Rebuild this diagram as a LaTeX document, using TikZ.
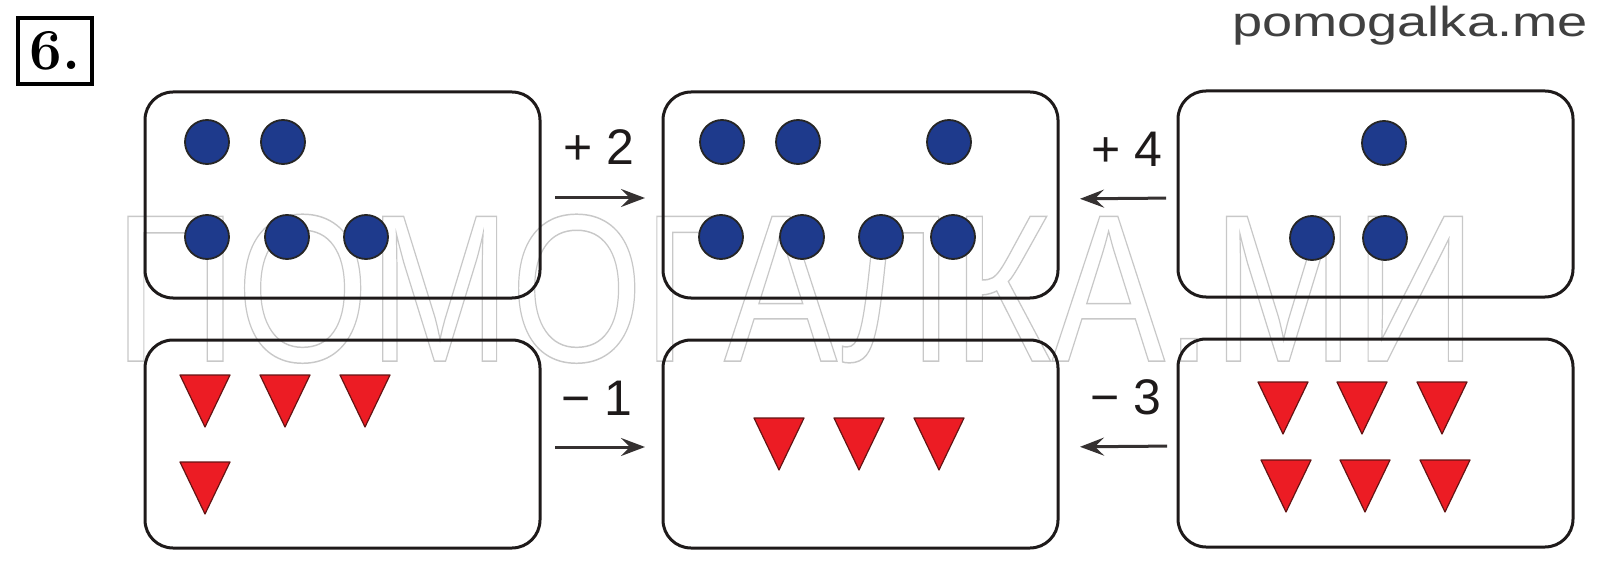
\documentclass[tikz,border=0pt]{standalone}
\usepackage{fontspec}
\usepackage{graphicx}
\newfontfamily\arial{Liberation Sans}
\usetikzlibrary{arrows.meta}

\definecolor{dotblue}{RGB}{30,58,140}
\definecolor{trired}{RGB}{236,28,36}
\definecolor{triedge}{RGB}{100,20,20}
\definecolor{ink}{RGB}{30,26,26}
\definecolor{wm}{RGB}{200,200,200}
\definecolor{site}{RGB}{64,64,64}

\tikzset{
  card/.style={draw=ink, line width=3pt, rounded corners=28pt, minimum width=395pt,
    minimum height=206pt, outer sep=0pt, inner sep=0pt},
  dot/.style={circle, fill=dotblue, draw=black!85, line width=1.8pt, minimum size=44pt, inner sep=0pt},
  tri/.style={fill=trired, draw=triedge, line width=1.2pt, line join=round},
  arr/.style={draw=ink!90, line width=3pt, -{Stealth[length=24pt,width=18pt,inset=9pt]}},
  lab/.style={font=\arial\fontsize{50}{60}\selectfont, text=ink, anchor=base, inner sep=0pt},
}
\newcommand\redtri[2]{\path[tri] (#1-25,#2) -- (#1+25,#2) -- (#1,#2+52) -- cycle;}

\begin{document}
\begin{tikzpicture}[x=1pt,y=-1pt]
\useasboundingbox (0,0) rectangle (1607,572);

% watermark
\node[anchor=north west, inner sep=0pt, text=wm] (wmk) at (114,214)
  {\resizebox{1362pt}{147pt}{\arial\fontsize{100}{100}\selectfont\special{pdf:literal direct q 1 Tr 0.7 w}ПОМОГАЛКА.МИ\special{pdf:literal direct Q}}};

% number box
\node[draw=black, line width=4pt, minimum width=74pt, minimum height=66pt, inner sep=0pt,
  font=\bfseries\fontsize{58}{60}\selectfont] (num) at (55,51) {6.};

% site
\node[anchor=base west, inner sep=0pt, text=site, font=\arial\fontsize{42}{46}\selectfont]
  (site) at (1232,37) {\scalebox{1.29}[1]{pomogalka.me}};

% cards
\node[card] (b1) at (342.5,195) {};
\node[card] (b2) at (860.5,195) {};
\node[card] (b3) at (1375.5,194) {};
\node[card, minimum height=208pt] (b4) at (342.5,444) {};
\node[card, minimum height=208pt] (b5) at (860.5,444) {};
\node[card, minimum height=208pt] (b6) at (1375.5,443) {};

% arrows
\draw[arr, shorten <=15pt, shorten >=18pt] ([yshift=-3pt]b1.east) -- ([yshift=-3pt]b2.west);
\draw[arr, shorten <=12pt, shorten >=22pt] ([yshift=-4pt]b3.west) -- ([yshift=-4pt]b2.east);
\draw[arr, shorten <=15pt, shorten >=18pt] ([yshift=-3pt]b4.east) -- ([yshift=-3pt]b5.west);
\draw[arr, shorten <=11pt, shorten >=22pt] ([yshift=-3pt]b6.west) -- ([yshift=-3pt]b5.east);

\node[lab] (l1) at (599,165) {+ 2};
\node[lab] (l2) at (1127,167) {+ 4};
\node[lab] (l3) at (597,415) {− 1};
\node[lab] (l4) at (1126,414) {− 3};

% dots
\node[dot] (d11) at (207,142) {};
\node[dot] (d12) at (283,142) {};
\node[dot] (d13) at (207,237) {};
\node[dot] (d14) at (287,237) {};
\node[dot] (d15) at (366,237) {};

\node[dot] (d21) at (722,142) {};
\node[dot] (d22) at (798,142) {};
\node[dot] (d23) at (949,142) {};
\node[dot] (d24) at (721,237) {};
\node[dot] (d25) at (802,237) {};
\node[dot] (d26) at (881,237) {};
\node[dot] (d27) at (953,237) {};

\node[dot] (d31) at (1384,143) {};
\node[dot] (d32) at (1312,238) {};
\node[dot] (d33) at (1385,238) {};

% triangles
\redtri{205}{375}\redtri{285}{375}\redtri{365}{375}
\redtri{205}{462}
\redtri{779}{418}\redtri{859}{418}\redtri{939}{418}
\redtri{1283}{382}\redtri{1362}{382}\redtri{1442}{382}
\redtri{1286}{460}\redtri{1365}{460}\redtri{1445}{460}
\end{tikzpicture}
\end{document}
